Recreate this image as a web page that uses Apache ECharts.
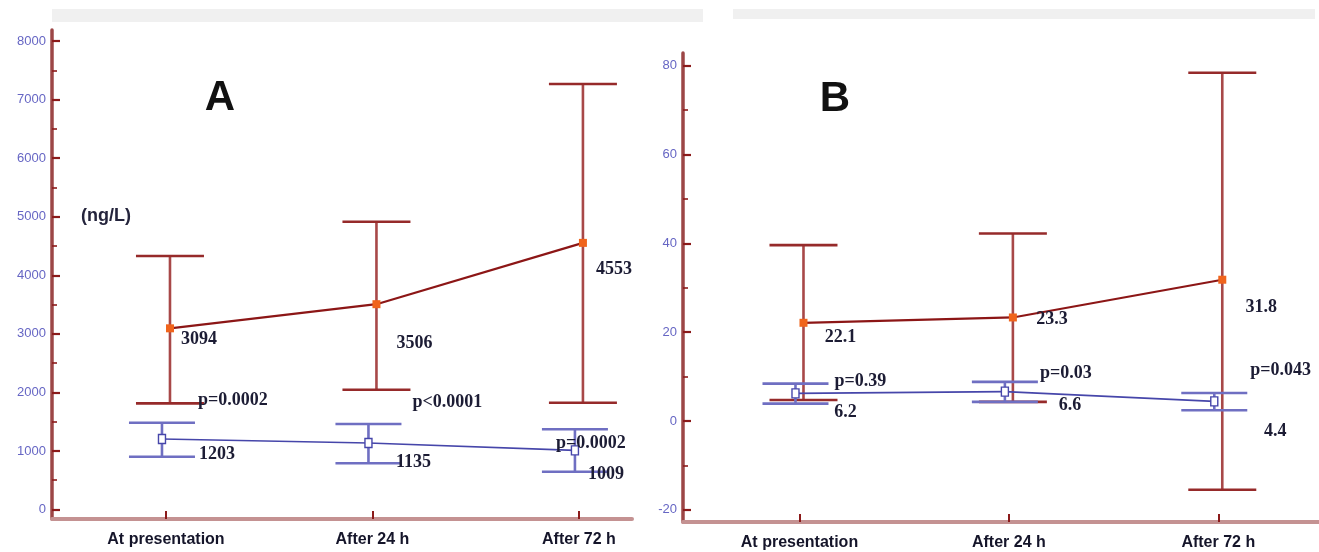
<!DOCTYPE html>
<html>
<head>
<meta charset="utf-8">
<script src="https://cdn.jsdelivr.net/npm/echarts@6/dist/echarts.min.js"></script>
<style>
  html, body { margin: 0; padding: 0; background: #fff; }
  #chart { width: 1319px; height: 552px; }
</style>
</head>
<body>
<div id="chart"></div>
<script>
// Time points shared by both panels
const categories = ['At presentation', 'After 24 h', 'After 72 h'];

// Panel A (ng/L): upper group mean with error-bar limits
const aHighMean = [3094, 3506, 4553];
const aHighLow = [1813, 2046, 1824];
const aHighUp = [4329, 4915, 7266];
// Panel A: lower group
const aLowMean = [1203, 1135, 1009];
const aLowLow = [902, 789, 645];
const aLowUp = [1482, 1460, 1370];
const aPValues = ['p=0.0002', 'p<0.0001', 'p=0.0002'];
const aTicks = [0, 1000, 2000, 3000, 4000, 5000, 6000, 7000, 8000];
const aMinorTicks = [500, 1500, 2500, 3500, 4500, 5500, 6500, 7500];

// Panel B: upper group
const bHighMean = [22.1, 23.3, 31.8];
const bHighLow = [4.7, 4.3, -15.5];
const bHighUp = [39.6, 42.2, 78.4];
// Panel B: lower group
const bLowMean = [6.2, 6.6, 4.4];
const bLowLow = [3.9, 4.3, 2.4];
const bLowUp = [8.4, 8.8, 6.3];
const bPValues = ['p=0.39', 'p=0.03', 'p=0.043'];
const bTicks = [-20, 0, 20, 40, 60, 80];
const bMinorTicks = [-10, 10, 30, 50, 70];

// Label placement (pixel offsets from each mean marker)
const aHighLabelOff = [[29, 11], [38, 39], [31, 26]];
const aLowLabelOff = [[55, 15], [45, 19], [31, 24]];
const aPOff = [[36, -39], [44, -41], [-19, -7]];
const bHighLabelOff = [[37, 15], [39, 2], [39, 28]];
const bLowLabelOff = [[50, 19], [65, 14], [61, 30]];
const bPOff = [[39, -12], [35, -18], [36, -31]];

const RED_BAR = '#a84848';
const RED_CAP = '#962a2a';
const RED_LINE = '#8c1616';
const RED_DOT = '#f0641c';
const BLUE_BAR = '#6f6fc2';
const BLUE_LINE = '#4646aa';
const TEXT = '#1c1c34';
const VALUE_FONT = 'bold 18px "Liberation Serif", "DejaVu Serif", serif';

function errorSeries(opts) {
  const { xi, means, lows, ups, dx, half, barColor, capColor, lineColor,
          lineWidth, hollow, labelOff, pValues, pOff, z } = opts;
  return {
    type: 'custom',
    xAxisIndex: xi,
    yAxisIndex: xi * 2,
    z: z,
    clip: false,
    silent: true,
    data: categories.map((c, i) => [i + 1, lows[i], ups[i], means[i]]),
    encode: { x: 0, y: [1, 2, 3] },
    renderItem: function (params, api) {
      const i = params.dataIndex;
      const x = api.value(0);
      const pm = api.coord([x, api.value(3)]);
      const pu = api.coord([x, api.value(2)]);
      const pl = api.coord([x, api.value(1)]);
      const cx = pm[0] + dx;
      const kids = [];
      if (i > 0) {
        const prev = api.coord([x - 1, means[i - 1]]);
        kids.push({ type: 'line', z2: 1,
          shape: { x1: prev[0] + dx, y1: prev[1], x2: cx, y2: pm[1] },
          style: { stroke: lineColor, lineWidth: lineWidth } });
      }
      kids.push({ type: 'line', z2: 2,
        shape: { x1: cx, y1: pu[1], x2: cx, y2: pl[1] },
        style: { stroke: barColor, lineWidth: 2.6 } });
      kids.push({ type: 'line', z2: 2,
        shape: { x1: cx - half, y1: pu[1], x2: cx + half, y2: pu[1] },
        style: { stroke: capColor, lineWidth: 2.6 } });
      kids.push({ type: 'line', z2: 2,
        shape: { x1: cx - half, y1: pl[1], x2: cx + half, y2: pl[1] },
        style: { stroke: capColor, lineWidth: 2.6 } });
      if (hollow) {
        kids.push({ type: 'rect', z2: 3,
          shape: { x: cx - 3.5, y: pm[1] - 4.5, width: 7, height: 9 },
          style: { fill: '#ffffff', stroke: lineColor, lineWidth: 1.4 } });
      } else {
        kids.push({ type: 'rect', z2: 3,
          shape: { x: cx - 4, y: pm[1] - 4, width: 8, height: 8 },
          style: { fill: RED_DOT } });
      }
      kids.push({ type: 'text', z2: 4,
        x: cx + labelOff[i][0], y: pm[1] + labelOff[i][1],
        style: { text: String(means[i]), font: VALUE_FONT, fill: TEXT,
                 align: 'center', verticalAlign: 'middle' } });
      if (pValues) {
        kids.push({ type: 'text', z2: 4,
          x: cx + pOff[i][0], y: pm[1] + pOff[i][1],
          style: { text: pValues[i], font: VALUE_FONT, fill: TEXT,
                   align: 'left', verticalAlign: 'middle' } });
      }
      return { type: 'group', children: kids };
    }
  };
}

function xAxisFor(gridIndex, min, max) {
  return {
    type: 'value', gridIndex: gridIndex, min: min, max: max,
    splitLine: { show: false },
    axisLine: { show: true, onZero: false, lineStyle: { color: '#c49292', width: 4 } },
    axisTick: { show: true, inside: true, length: 8, customValues: [1, 2, 3],
                lineStyle: { color: '#8b1a1a', width: 2 } },
    axisLabel: { show: true, customValues: [1, 2, 3], margin: 13,
                 formatter: v => categories[Math.round(v) - 1],
                 color: '#15152a', fontWeight: 'bold', fontSize: 16,
                 fontFamily: '"Liberation Sans", Arial, sans-serif' }
  };
}

function yAxesFor(gridIndex, min, max, ticks, minor) {
  return [{
    type: 'value', gridIndex: gridIndex, min: min, max: max, position: 'left',
    splitLine: { show: false },
    axisLine: { show: true, onZero: false, lineStyle: { color: '#9c4646', width: 3.5 } },
    axisTick: { show: true, inside: true, length: 8, customValues: ticks,
                lineStyle: { color: '#8b1a1a', width: 2.2 } },
    axisLabel: { show: true, customValues: ticks, margin: 6, color: '#6666c4',
                 formatter: v => String(v),
                 fontSize: 13, fontFamily: '"Liberation Sans", Arial, sans-serif' }
  }, {
    type: 'value', gridIndex: gridIndex, min: min, max: max, position: 'left', offset: 0,
    splitLine: { show: false },
    axisLine: { show: false, onZero: false },
    axisTick: { show: true, inside: true, length: 5, customValues: minor,
                lineStyle: { color: '#8b1a1a', width: 1.6 } },
    axisLabel: { show: false }
  }];
}

const chart = echarts.init(document.getElementById('chart'), null, { renderer: 'canvas' });

chart.setOption({
  animation: false,
  backgroundColor: '#ffffff',
  grid: [
    { left: 52, right: 687, top: 30, bottom: 33 },
    { left: 683, right: 0, top: 53, bottom: 30 }
  ],
  xAxis: [
    xAxisFor(0, 0.448, 3.257),
    xAxisFor(1, 0.4437, 3.481)
  ],
  yAxis: [
    ...yAxesFor(0, -162, 8188, aTicks, aMinorTicks),
    ...yAxesFor(1, -22.76, 82.86, bTicks, bMinorTicks)
  ],
  graphic: [
    { type: 'rect', left: 52, top: 9, shape: { width: 651, height: 13 },
      style: { fill: '#f0f0f0' }, silent: true },
    { type: 'rect', left: 733, top: 9, shape: { width: 582, height: 10 },
      style: { fill: '#f0f0f0' }, silent: true },
    { type: 'text', x: 220, y: 98, style: { text: 'A', font: 'bold 42px "Liberation Sans", Arial, sans-serif',
      fill: '#111111', align: 'center', verticalAlign: 'middle' } },
    { type: 'text', x: 835, y: 99, style: { text: 'B', font: 'bold 42px "Liberation Sans", Arial, sans-serif',
      fill: '#111111', align: 'center', verticalAlign: 'middle' } },
    { type: 'text', x: 81, y: 216, style: { text: '(ng/L)', font: 'bold 18px "Liberation Sans", Arial, sans-serif',
      fill: '#24243c', align: 'left', verticalAlign: 'middle' } }
  ],
  series: [
    errorSeries({ xi: 0, means: aHighMean, lows: aHighLow, ups: aHighUp, dx: 4, half: 34,
      barColor: RED_BAR, capColor: RED_CAP, lineColor: RED_LINE, lineWidth: 2.2,
      hollow: false, labelOff: aHighLabelOff, z: 2 }),
    errorSeries({ xi: 0, means: aLowMean, lows: aLowLow, ups: aLowUp, dx: -4, half: 33,
      barColor: BLUE_BAR, capColor: BLUE_BAR, lineColor: BLUE_LINE, lineWidth: 1.6,
      hollow: true, labelOff: aLowLabelOff, pValues: aPValues, pOff: aPOff, z: 3 }),
    errorSeries({ xi: 1, means: bHighMean, lows: bHighLow, ups: bHighUp, dx: 4, half: 34,
      barColor: RED_BAR, capColor: RED_CAP, lineColor: RED_LINE, lineWidth: 2.2,
      hollow: false, labelOff: bHighLabelOff, z: 2 }),
    errorSeries({ xi: 1, means: bLowMean, lows: bLowLow, ups: bLowUp, dx: -4, half: 33,
      barColor: BLUE_BAR, capColor: BLUE_BAR, lineColor: BLUE_LINE, lineWidth: 1.6,
      hollow: true, labelOff: bLowLabelOff, pValues: bPValues, pOff: bPOff, z: 3 })
  ]
});
</script>
</body>
</html>
